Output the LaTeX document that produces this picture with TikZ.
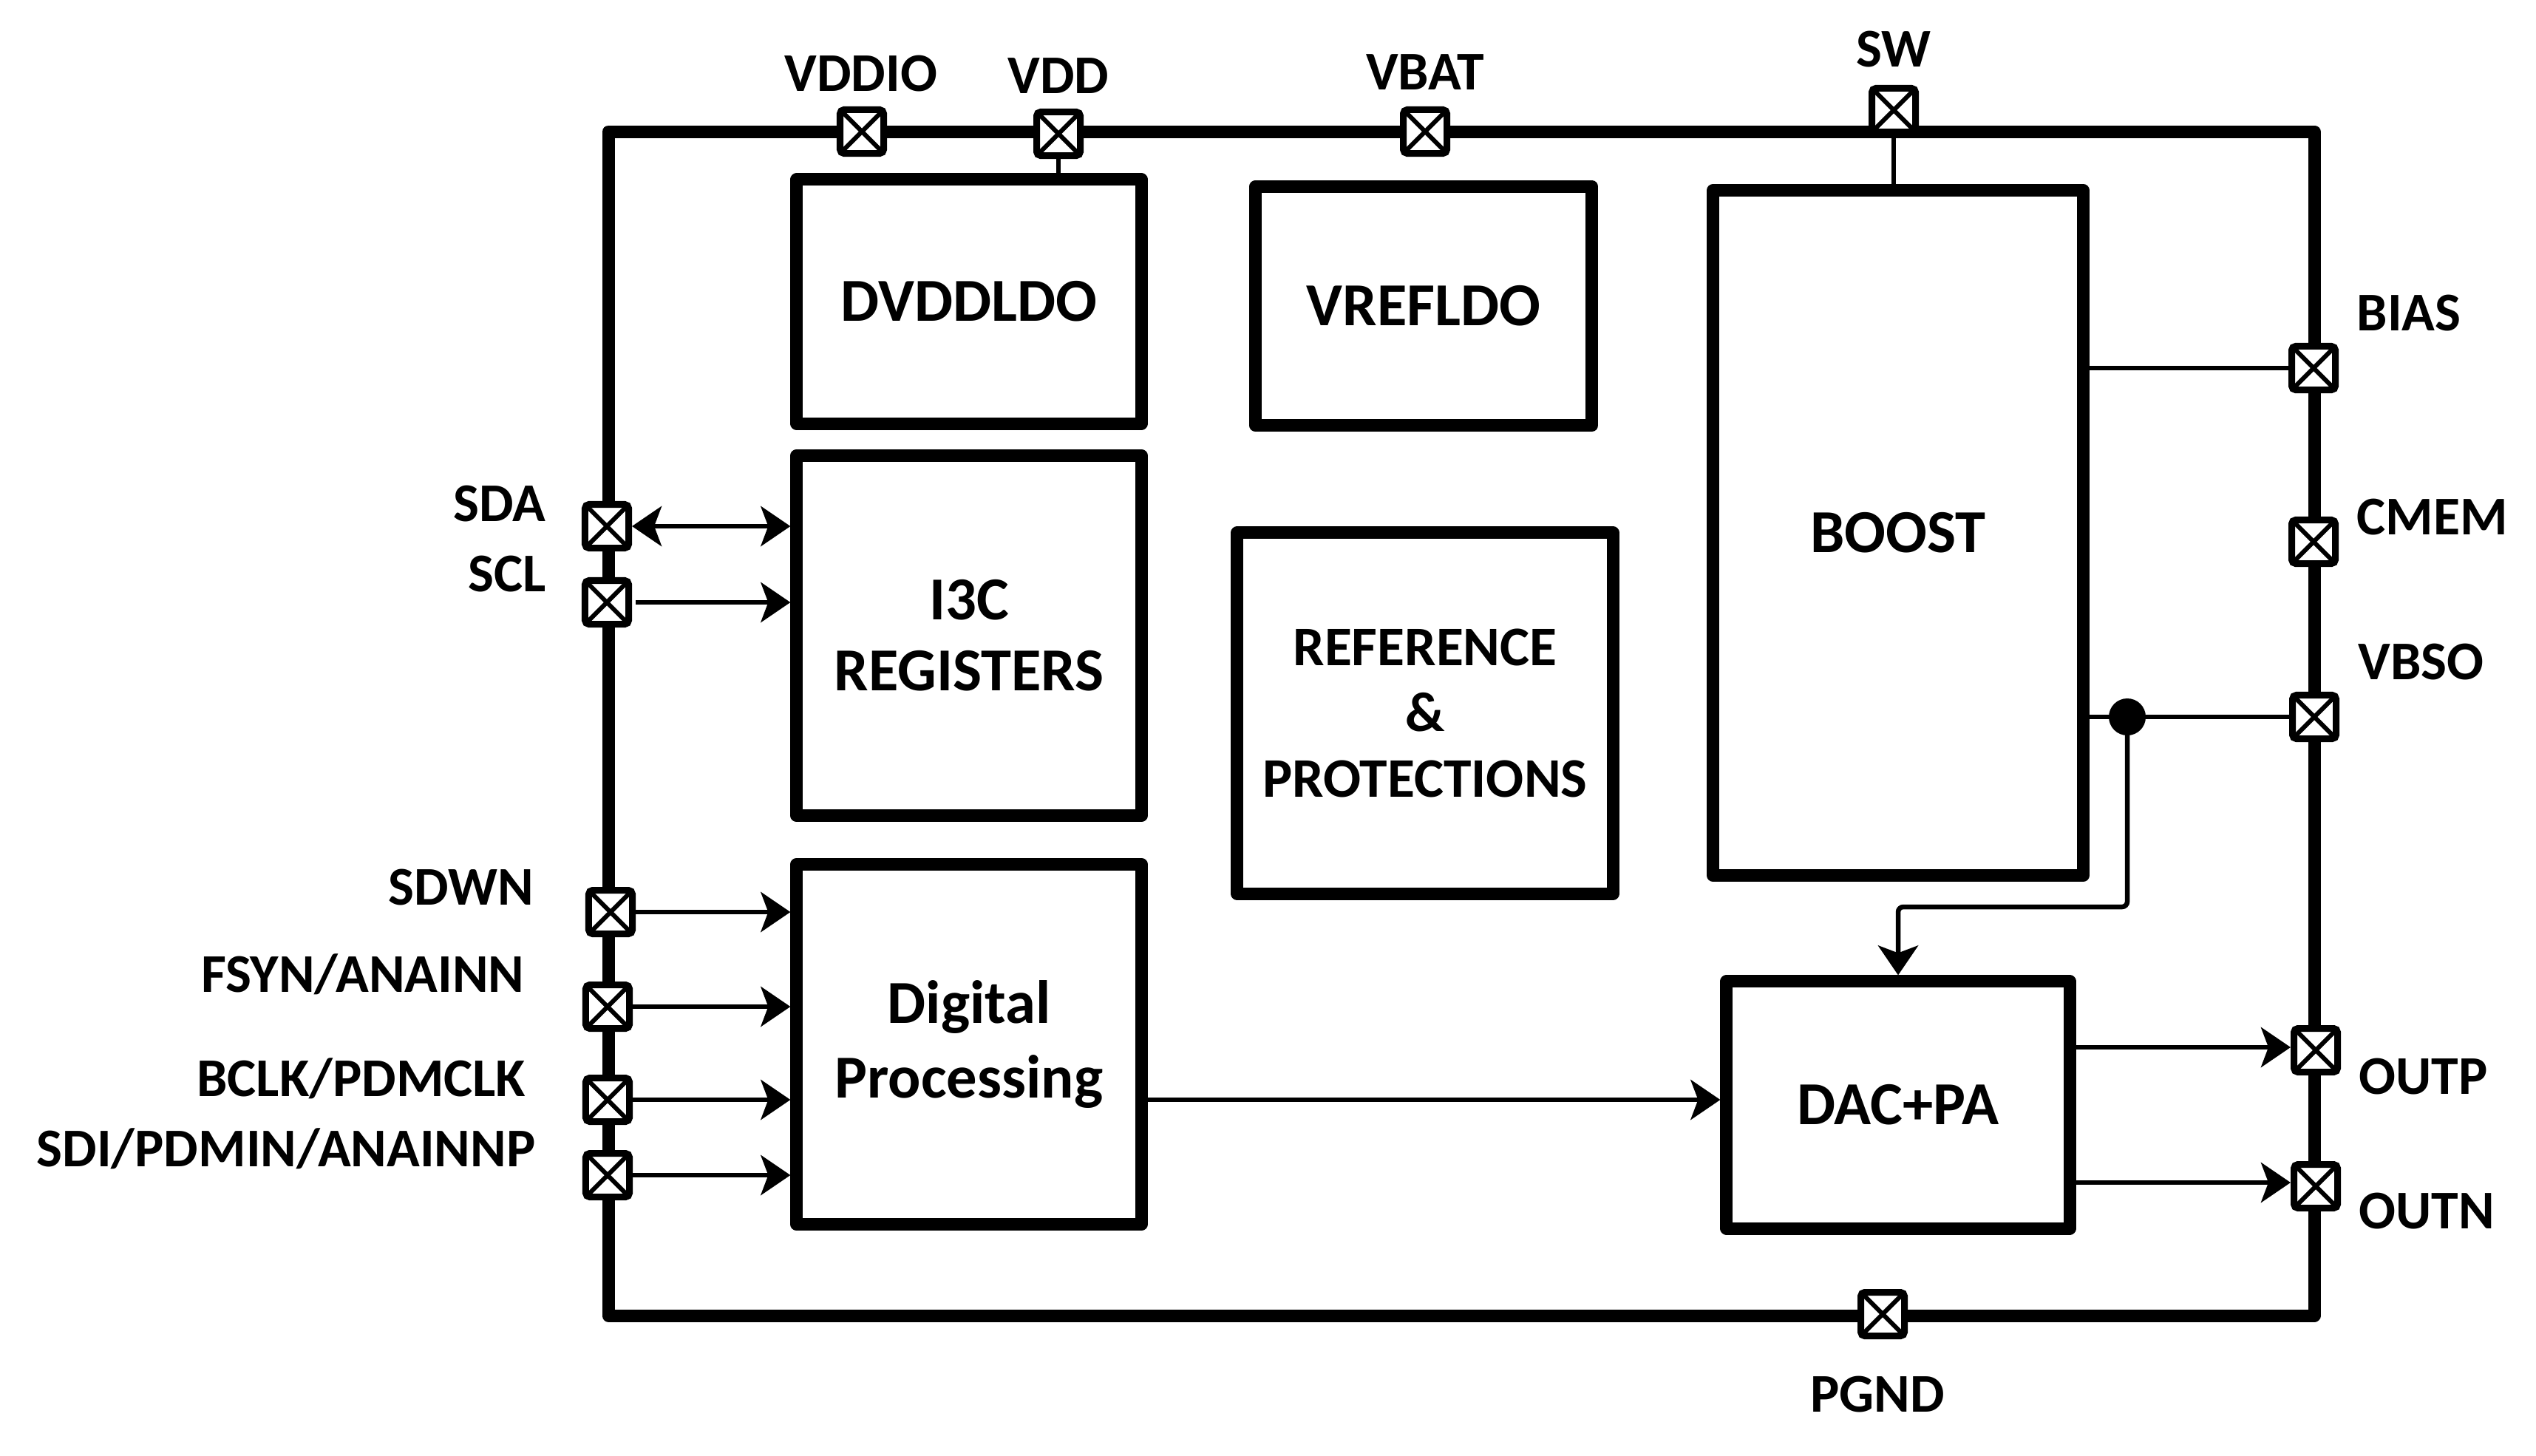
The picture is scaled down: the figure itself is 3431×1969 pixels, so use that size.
\documentclass[tikz,border=0pt]{standalone}
\usepackage{fontspec}
\setmainfont{Carlito}
\usetikzlibrary{arrows.meta,calc}
\begin{document}
\begin{tikzpicture}[x=0.01cm,y=-0.01cm,
  blk/.style={draw, line width=0.17cm, line join=round, align=center, inner sep=0,
    font=\bfseries\fontsize{23.5}{28.5}\selectfont},
  pin/.style={draw, fill=white, line width=0.09cm, minimum size=0.59cm, inner sep=0, rounded corners=1.5pt,
    path picture={\draw[line width=0.06cm, sharp corners]
      (path picture bounding box.south west) -- (path picture bounding box.north east)
      (path picture bounding box.north west) -- (path picture bounding box.south east);}},
  lbl/.style={font=\bfseries\fontsize{21}{26}\selectfont, inner sep=0},
  wire/.style={line width=0.065cm},
  tipa/.tip={Stealth[length=0.40cm,width=0.54cm,inset=0.1cm]},
  arr/.style={wire, -tipa},
  darr/.style={wire, tipa-tipa}
]
\useasboundingbox (0,0) rectangle (3431,1969);
\fill[white] (0,0) rectangle (3431,1969);

% chip outline
\draw[line width=0.17cm, line join=round] (823,178) rectangle (3131,1780);

% blocks
\node[blk, minimum width=4.66cm, minimum height=3.30cm] (dvdd) at (1311,408) {DVDDLDO};
\node[blk, minimum width=4.55cm, minimum height=3.23cm] (vref) at (1926,414) {VREFLDO};
\node[blk, minimum width=5.00cm, minimum height=9.27cm] (boost) at (2568,721) {BOOST};
\node[blk, minimum width=4.66cm, minimum height=4.87cm, font=\bfseries\fontsize{23.5}{27.3}\selectfont] (i3c) at (1311,860) {I3C\\REGISTERS};
\node[blk, minimum width=5.08cm, minimum height=4.88cm, font=\bfseries\fontsize{21.5}{25.3}\selectfont] (ref) at (1928,965) {REFERENCE\\\&\\PROTECTIONS};
\node[blk, minimum width=4.66cm, minimum height=4.87cm] (dp) at (1311,1413) {Digital\\Processing};
\node[blk, minimum width=4.64cm, minimum height=3.34cm] (dac) at (2568,1495) {DAC+PA};

% pins
\node[pin] (pVDDIO) at (1166,178) {};
\node[pin] (pVDD) at (1432,181) {};
\node[pin] (pVBAT) at (1928,178) {};
\node[pin] (pSW) at (2562,149) {};
\node[pin] (pBIAS) at (3130,498) {};
\node[pin] (pCMEM) at (3130,733) {};
\node[pin] (pVBSO) at (3131,970) {};
\node[pin] (pOUTP) at (3133,1421) {};
\node[pin] (pOUTN) at (3133,1605) {};
\node[pin] (pPGND) at (2547,1778) {};
\node[pin] (pSDA) at (821,712) {};
\node[pin] (pSCL) at (821,815) {};
\node[pin] (pSDWN) at (826,1234) {};
\node[pin] (pFSYN) at (822,1362) {};
\node[pin] (pBCLK) at (822,1488) {};
\node[pin] (pSDI) at (822,1590) {};

% labels
\node[lbl, anchor=base] at (1165,123) {VDDIO};
\node[lbl, anchor=base] at (1432,126) {VDD};
\node[lbl, anchor=base] at (1928,121) {VBAT};
\node[lbl, anchor=base] at (2562,90) {SW};
\node[lbl, anchor=base west] at (3188,447) {BIAS};
\node[lbl, anchor=base west] at (3188,723) {CMEM};
\node[lbl, anchor=base west] at (3190,919) {VBSO};
\node[lbl, anchor=base west] at (3191,1480) {OUTP};
\node[lbl, anchor=base west] at (3191,1662) {OUTN};
\node[lbl, anchor=base] at (2540,1910) {PGND};
\node[lbl, anchor=base east] at (739,705) {SDA};
\node[lbl, anchor=base east] at (739,800) {SCL};
\node[lbl, anchor=base east] at (723,1224) {SDWN};
\node[lbl, anchor=base east] at (710,1342) {FSYN/ANAINN};
\node[lbl, anchor=base east] at (712,1483) {BCLK/PDMCLK};
\node[lbl, anchor=base east] at (725,1578) {SDI/PDMIN/ANAINNP};

% connections
\draw[wire] (pVDD.south) -- (pVDD.south |- dvdd.north);
\draw[wire] (pSW.south) -- (pSW.south |- boost.north);
\draw[wire] (boost.east |- pBIAS) -- (pBIAS.west);
\node[circle, fill=black, inner sep=0, minimum size=0.50cm] (dot) at (2878,970) {};
\draw[wire] (boost.east |- pVBSO) -- (pVBSO.west);
\coordinate (vturn) at (2568,1227);
\draw[arr, rounded corners=2pt] (dot.center) |- (vturn) -- (dac.north);

\draw[darr] (pSDA.east) -- (pSDA.east -| i3c.west);
\draw[arr] (pSCL.east) ++(5,0) -- (pSCL.east -| i3c.west);
\draw[arr] (pSDWN.east) -- (pSDWN.east -| dp.west);
\draw[arr] (pFSYN.east) -- (pFSYN.east -| dp.west);
\draw[arr] (pBCLK.east) -- (pBCLK.east -| dp.west);
\draw[arr] (pSDI.east) -- (pSDI.east -| dp.west);
\draw[arr] (dp.east |- pBCLK) -- (dac.west |- pBCLK);
\draw[arr] (dac.east |- 0,1417) -- (pOUTP.west |- 0,1417);
\draw[arr] (dac.east |- 0,1600) -- (pOUTN.west |- 0,1600);
\end{tikzpicture}
\end{document}
